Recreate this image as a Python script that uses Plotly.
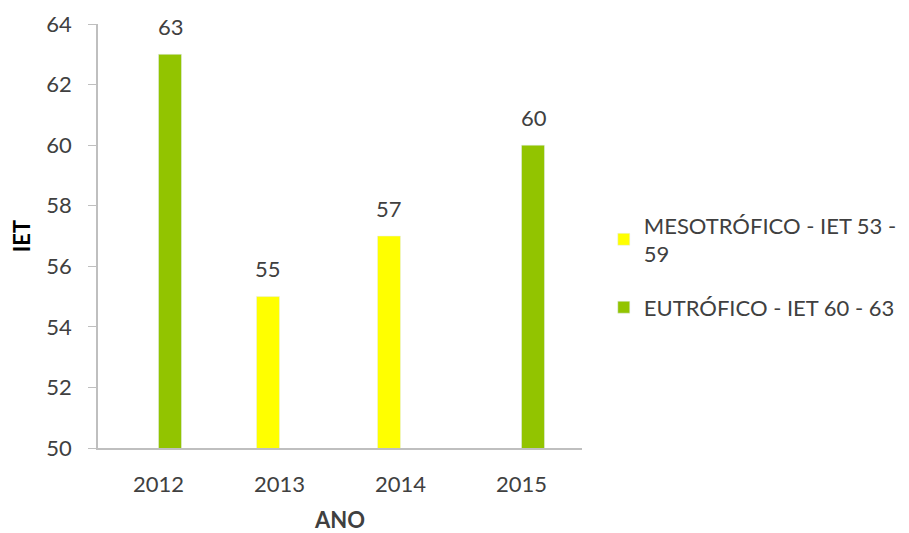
import plotly.graph_objects as go

years = ["2012", "2013", "2014", "2015"]
meso_name = "MESOTRÓFICO - IET 53 -<br>59"
eutro_name = "EUTRÓFICO - IET 60 - 63"
meso_values = [None, 55, 57, None]
eutro_values = [63, None, None, 60]

meso_color = "#FFFF00"
eutro_color = "#92C400"
text_color = "#404040"
axis_color = "#BFBFBF"
font_family = "Lato"
font_size = 22

fig = go.Figure()
fig.add_trace(go.Bar(x=years, y=meso_values, name=meso_name,
                     marker_color=meso_color, legendgroup="meso"))
fig.add_trace(go.Bar(x=years, y=eutro_values, name=eutro_name,
                     marker_color=eutro_color, legendgroup="eutro"))

# value labels above each bar, shifted to that series' slot in the group
for values, shift in ((meso_values, -12), (eutro_values, 12)):
    for i, v in enumerate(values):
        if v is None:
            continue
        fig.add_annotation(
            x=i, y=v, xref="x", yref="y", text=str(v), showarrow=False,
            xshift=shift, yshift=28, yanchor="middle",
            font=dict(size=font_size, color=text_color, family=font_family),
        )

fig.update_layout(
    width=909, height=533,
    margin=dict(l=98, r=327, t=24, b=85, autoexpand=False),
    paper_bgcolor="white", plot_bgcolor="white",
    barmode="group", bargap=0.62, bargroupgap=0.0,
    font=dict(family=font_family, size=font_size, color=text_color),
    legend=dict(
        x=1.045, y=0.575, xanchor="left", yanchor="top",
        font=dict(size=font_size, color=text_color, family=font_family),
        tracegroupgap=22, itemwidth=30,
    ),
    xaxis=dict(
        type="category", range=[-0.5, len(years) - 0.5],
        showline=True, linecolor=axis_color, linewidth=1.5,
        ticks="", showgrid=False, zeroline=False,
        ticklabelstandoff=16,
        tickfont=dict(size=font_size, color=text_color),
        title=dict(text="<b>ANO</b>", font=dict(size=font_size, color=text_color), standoff=18),
    ),
    yaxis=dict(
        range=[50, 64], dtick=2, tick0=50,
        showline=True, linecolor=axis_color, linewidth=1.5,
        ticks="outside", ticklen=8, tickcolor=axis_color,
        ticklabelstandoff=12,
        showgrid=False, zeroline=False,
        tickfont=dict(size=font_size, color=text_color),
        title=dict(text="<b>IET</b>", font=dict(size=font_size, color="#000000"), standoff=10),
    ),
)

fig.write_html("out.html")
